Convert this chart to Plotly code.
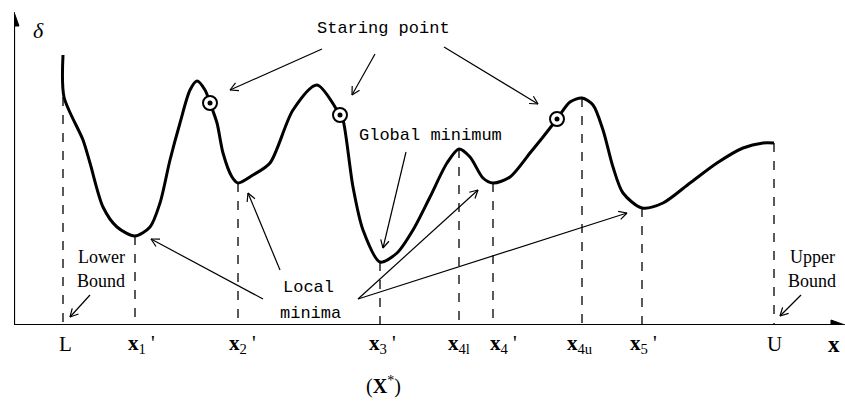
import math
import plotly.graph_objects as go

# ---- data (x position, delta value) ----
curve_x = [49, 50, 69, 76, 89, 103, 121, 136, 146, 156, 166, 176, 183, 191, 196, 203, 209, 218, 224,
           239, 256, 279, 303, 326, 329, 339, 349, 366, 383, 399, 416, 433, 445, 456, 469, 479,
           496, 516, 529, 543, 556, 568, 579, 589, 599, 609, 628, 649, 676, 703, 729, 749, 760]
curve_delta = [270, 228, 185, 162, 118, 98, 89, 98, 122, 165, 202, 235, 244, 235, 222, 202, 172, 148, 142,
               150, 162, 215, 240, 210, 205, 138, 95, 63, 72, 95, 128, 162, 176, 168, 147, 142,
               148, 172, 188, 206, 223, 227, 220, 195, 158, 132, 117, 122, 142, 162, 177, 182, 182]

start_x = [196, 326, 543]
start_delta = [222, 210, 206]

bound_x = [49, 121, 224, 366, 445, 479, 568, 628, 760]
bound_delta = [228, 89, 142, 63, 176, 142, 227, 117, 182]
tick_labels = ["L", "<b>x</b><sub>1</sub> '", "<b>x</b><sub>2</sub> '", "<b>x</b><sub>3</sub> '",
               "<b>x</b><sub>4l</sub>", "<b>x</b><sub>4</sub> '", "<b>x</b><sub>4u</sub>",
               "<b>x</b><sub>5</sub> '", "U"]
tick_shift = [2, 6, 4, 2, 0, 10, -2, 1, 0]

# arrows: (tail_x, tail_d, head_x, head_d)
start_arrows = [(308, 276, 216, 235), (361, 271, 338, 230), (430, 278, 524, 221)]
global_arrow = [(392, 173, 369, 77)]
local_arrows = [(249, 26, 137, 86), (266, 55, 234, 132), (344, 26, 464, 135), (344, 26, 613, 112)]
bound_arrows = [(76, 30, 56, 8), (787, 30, 766, 9)]
axis_ends = [(0, 0, 831, 0), (0, 0, 0, 313)]

PLOT_H = 325.0

fig = go.Figure()

# dashed drop lines
dx, dy = [], []
for x, d in zip(bound_x, bound_delta):
    dx += [x, x, None]
    dy += [d, 0, None]
fig.add_trace(go.Scatter(x=dx, y=dy, mode="lines",
                         line=dict(color="black", width=1.3, dash="dash"),
                         hoverinfo="skip", showlegend=False))

# curve
fig.add_trace(go.Scatter(x=curve_x, y=curve_delta, mode="lines",
                         line=dict(color="black", width=3, shape="spline", smoothing=0.8),
                         hoverinfo="skip", showlegend=False))

# starting points
fig.add_trace(go.Scatter(x=start_x, y=start_delta, mode="markers",
                         marker=dict(size=14, color="white", line=dict(color="black", width=2)),
                         hoverinfo="skip", showlegend=False))
fig.add_trace(go.Scatter(x=start_x, y=start_delta, mode="markers",
                         marker=dict(size=5, color="black"),
                         hoverinfo="skip", showlegend=False))

# thin arrows with open V heads (1 data unit == 1 px on both axes)
ax_x, ax_y = [], []
for tx, ty, hx, hy in start_arrows + global_arrow + local_arrows + bound_arrows:
    ang = math.atan2(hy - ty, hx - tx)
    ax_x += [tx, hx, None]
    ax_y += [ty, hy, None]
    for s in (1, -1):
        a = ang + math.pi + s * math.radians(28)
        ax_x += [hx, hx + 9 * math.cos(a), None]
        ax_y += [hy, hy + 9 * math.sin(a), None]
fig.add_trace(go.Scatter(x=ax_x, y=ax_y, mode="lines", line=dict(color="black", width=1.2),
                         hoverinfo="skip", showlegend=False, cliponaxis=False))

# axes with filled triangular heads
for tx, ty, hx, hy in axis_ends:
    ang = math.atan2(hy - ty, hx - tx)
    bx, by = hx - 14 * math.cos(ang), hy - 14 * math.sin(ang)
    fig.add_trace(go.Scatter(x=[tx, bx], y=[ty, by], mode="lines",
                             line=dict(color="black", width=2.2),
                             hoverinfo="skip", showlegend=False, cliponaxis=False))
    px_ = -math.sin(ang) * 5
    py_ = math.cos(ang) * 5
    fig.add_trace(go.Scatter(x=[hx, bx + px_, bx - px_, hx], y=[hy, by + py_, by - py_, hy],
                             mode="lines", fill="toself", fillcolor="black",
                             line=dict(color="black", width=1),
                             hoverinfo="skip", showlegend=False, cliponaxis=False))

ann = []
serif = "Liberation Serif"
mono = "Liberation Mono"

def txt(x, y, s, fam, size, **kw):
    d = dict(x=x, y=y, xref="x", yref="y", text=s, showarrow=False,
             xanchor="center", yanchor="middle",
             font=dict(family=fam, size=size, color="black"))
    d.update(kw)
    return d

def ptxt(x, y, s, fam, size, **kw):
    # below the axis: place in paper coordinates (plot area height = PLOT_H px)
    d = dict(x=x, y=y / PLOT_H, xref="x", yref="paper", text=s, showarrow=False,
             xanchor="center", yanchor="middle",
             font=dict(family=fam, size=size, color="black"))
    d.update(kw)
    return d

for x, lab, sh in zip(bound_x, tick_labels, tick_shift):
    ann.append(ptxt(x, -19, lab, serif, 21, xshift=sh))

ann.append(ptxt(820, -19, "<b>x</b>", serif, 23))
ann.append(ptxt(369, -61, "(<b>X</b><sup>*</sup>)", serif, 20))
ann.append(txt(24, 295, "<i>δ</i>", serif, 22))

ann.append(txt(369, 297, "Staring point", mono, 17))
ann.append(txt(416, 190, "Global minimum", mono, 17))
ann.append(txt(294, 38, "Local", mono, 17))
ann.append(txt(296, 12, "minima", mono, 17))
ann.append(txt(87, 68, "Lower", serif, 18))
ann.append(txt(87, 44, "Bound", serif, 18))
ann.append(txt(798, 68, "Upper", serif, 18))
ann.append(txt(798, 44, "Bound", serif, 18))

fig.update_layout(
    width=845, height=402,
    margin=dict(l=14, r=0, t=0, b=77),
    paper_bgcolor="white", plot_bgcolor="white",
    xaxis=dict(range=[0, 831], visible=False, fixedrange=True),
    yaxis=dict(range=[0, 325], visible=False, fixedrange=True),
    annotations=ann,
    showlegend=False,
)

fig.write_html("out.html")
